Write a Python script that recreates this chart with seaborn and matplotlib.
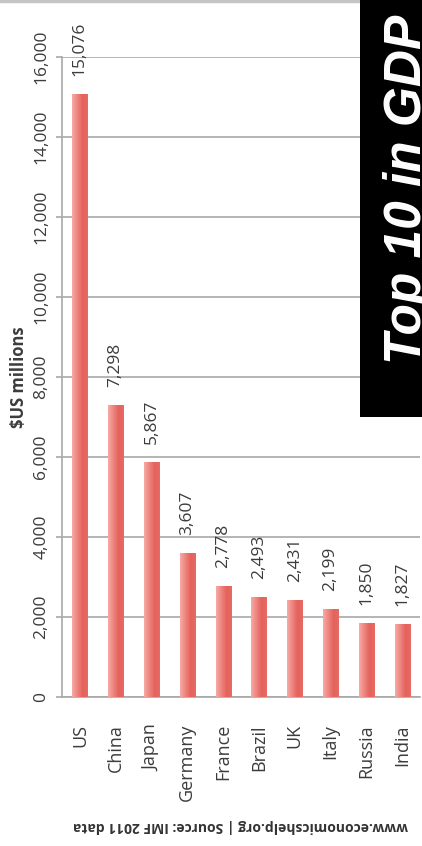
import numpy as np
import pandas as pd
import matplotlib
matplotlib.use("Agg")
import matplotlib.pyplot as plt
from matplotlib.patches import Rectangle
from matplotlib.lines import Line2D
from matplotlib.colors import LinearSegmentedColormap
import seaborn as sns

# GDP 2011, $US millions (IMF)
countries = ["US", "China", "Japan", "Germany", "France",
             "Brazil", "UK", "Italy", "Russia", "India"]
gdp = [15076, 7298, 5867, 3607, 2778, 2493, 2431, 2199, 1850, 1827]
y_ticks = [0, 2000, 4000, 6000, 8000, 10000, 12000, 14000, 16000]

title_text = "Top 10 in GDP"
source_text = "www.economicshelp.org | Source: IMF 2011 data"
y_label = "$US millions"

sns.set_style("white")
plt.rcParams["font.family"] = ["Open Sans", "DejaVu Sans"]

text_col = "#3c3c3c"
grid_col = "#a8a8a8"

df = pd.DataFrame({"country": countries, "gdp": gdp})

fig = plt.figure(figsize=(4.22, 8.46), dpi=100)
ax = fig.add_axes([62 / 422, 1 - 697 / 846, 358 / 422, 640 / 846])

sns.barplot(data=df, x="country", y="gdp", color="#ec7c76",
            width=0.42, ax=ax, saturation=1, zorder=3)

# horizontal gradient fill for each bar
grad = LinearSegmentedColormap.from_list(
    "bar", ["#f8aaa4", "#ee8580", "#e4625b", "#e66b65"])
gimg = np.linspace(0, 1, 64).reshape(1, -1)
for p in ax.patches:
    x0, y0 = p.get_x(), p.get_y()
    w, h = p.get_width(), p.get_height()
    im = ax.imshow(gimg, cmap=grad, aspect="auto", origin="lower",
                   extent=[x0, x0 + w, y0, y0 + h], zorder=3.1)
    im.set_clip_path(p)
    p.set_facecolor("none")
    p.set_edgecolor("none")

ax.set_xlim(-0.5, len(countries) - 0.5)
ax.set_ylim(0, 16000)
ax.set_yticks(y_ticks)
ax.set_yticklabels([f"{v:,}" for v in y_ticks])

# value labels above the bars
ax.bar_label(ax.containers[0], labels=[f"{v:,}" for v in gdp],
             rotation=90, padding=13, fontsize=12.5, color=text_col)

ax.yaxis.grid(True, color=grid_col, linewidth=1.2)
ax.xaxis.grid(False)
ax.set_axisbelow(True)

for side in ["top", "right"]:
    ax.spines[side].set_visible(False)
for side in ["left", "bottom"]:
    ax.spines[side].set_color(grid_col)
    ax.spines[side].set_linewidth(1.2)

ax.tick_params(axis="y", which="major", left=True, length=4, width=1.2,
               color=grid_col, pad=5, labelsize=12.5, labelcolor=text_col)
ax.tick_params(axis="x", bottom=False, pad=16, labelsize=13,
               labelcolor=text_col)
for lab in ax.get_yticklabels():
    lab.set_rotation(90)
    lab.set_ha("right")
    lab.set_va("center")
for lab in ax.get_xticklabels():
    lab.set_rotation(90)
    lab.set_ha("center")
    lab.set_va("top")

ax.set_xlabel("")
ax.set_ylabel(y_label, fontsize=12, fontweight="bold", color=text_col)
ax.yaxis.set_label_coords((28 - 62) / 358, 0.5)

# thin frame line along the top edge
fig.add_artist(Line2D([0, 1], [1 - 1.5 / 846] * 2, transform=fig.transFigure,
                      color="#c4c4c4", linewidth=2.5, zorder=1))

# title banner
fig.add_artist(Rectangle((360 / 422, 1 - 417 / 846), 62 / 422, 417 / 846,
                         transform=fig.transFigure, facecolor="black",
                         edgecolor="none", zorder=5))
fig.text(421 / 422, 1 - 364 / 846, title_text, rotation=90,
         rotation_mode="anchor", ha="left", va="baseline",
         color="white", fontsize=37, fontweight="bold", fontstyle="italic",
         family=["Liberation Sans", "DejaVu Sans"], zorder=6)

# source line, printed upside down
fig.text(241 / 422, 1 - 826 / 846, source_text, rotation=180,
         ha="center", va="center", fontsize=10, fontweight="bold",
         color="#333333", zorder=6)

fig.savefig("out.png", dpi=100)
